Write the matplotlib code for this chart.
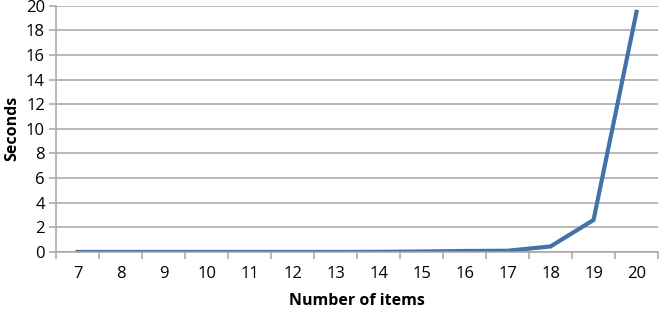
import matplotlib.pyplot as plt
import numpy as np

items = [7, 8, 9, 10, 11, 12, 13, 14, 15, 16, 17, 18, 19, 20]
seconds = [0.0, 0.0, 0.0, 0.0, 0.0, 0.0, 0.0, 0.01, 0.04, 0.08, 0.1, 0.45, 2.6, 19.5]

plt.rcParams['font.family'] = ['Open Sans', 'DejaVu Sans']

fig = plt.figure(figsize=(6.6, 3.09), dpi=100)
ax = fig.add_axes([0.085, 0.1845, 0.912, 0.797])

x = np.arange(len(items))
ax.plot(x, seconds, color='#4472a8', linewidth=3.0, solid_joinstyle='miter')

ax.set_xlim(-0.5, len(items) - 0.5)
ax.set_ylim(0, 20)
ax.set_yticks(range(0, 21, 2))
ax.set_xticks(x)
ax.set_xticklabels([str(i) for i in items])
ax.set_xticks(np.arange(-0.5, len(items), 1), minor=True)

ax.grid(axis='y', color='#a6a6a6', linewidth=1.1)
ax.set_axisbelow(True)
for s in ['top', 'right']:
    ax.spines[s].set_visible(False)
for s in ['left', 'bottom']:
    ax.spines[s].set_color('#a6a6a6')
    ax.spines[s].set_linewidth(1.1)

ax.tick_params(axis='x', which='major', length=0, pad=10, labelsize=12)
ax.tick_params(axis='x', which='minor', length=5, color='#a6a6a6', width=1.1)
ax.tick_params(axis='y', length=5, color='#a6a6a6', width=1.1, labelsize=12, pad=3)

ax.set_xlabel('Number of items', fontsize=11.5, fontweight='bold', labelpad=8)
ax.set_ylabel('Seconds', fontsize=11.5, fontweight='bold', labelpad=4)

fig.savefig('out.png', dpi=100)
